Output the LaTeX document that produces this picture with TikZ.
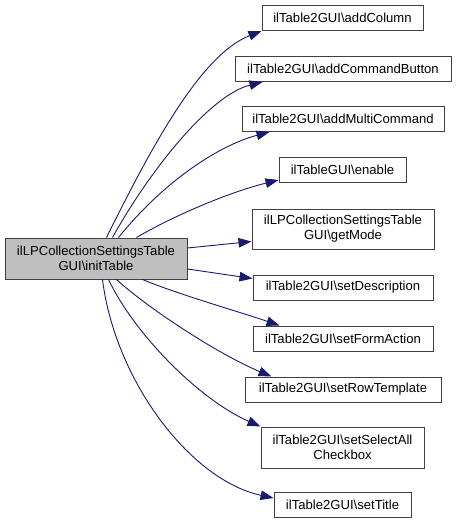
\documentclass[tikz,border=0pt]{standalone}
\usepackage{fontspec}
\setmainfont{Liberation Sans}
\usetikzlibrary{arrows.meta}
\definecolor{edgeblue}{HTML}{191970}
\definecolor{boxline}{HTML}{404040}
\definecolor{mainfill}{HTML}{BFBFBF}
\tikzset{
  fn/.style={draw=boxline, line width=1pt, fill=white, inner sep=0pt,
    minimum height=25pt, align=center, font=\fontsize{13.1}{15}\selectfont},
  fntwo/.style={fn, minimum height=41pt},
  mainbox/.style={fntwo, fill=mainfill},
  edge/.style={draw=edgeblue, line width=0.9pt, -{Triangle[length=13pt,width=9.5pt]}, fill=none}
}
\begin{document}
\begin{tikzpicture}[x=1pt,y=-1pt]
\useasboundingbox (0,0) rectangle (456,525);
\node[mainbox, minimum width=182pt] (main) at (96,258.5) {ilLPCollectionSettingsTable\\GUI\textbackslash initTable};
\node[fn, minimum width=161pt] (n1) at (342.5,18) {ilTable2GUI\textbackslash addColumn};
\node[fn, minimum width=216pt] (n2) at (343,69) {ilTable2GUI\textbackslash addCommandButton};
\node[fn, minimum width=202pt] (n3) at (343,119) {ilTable2GUI\textbackslash addMultiCommand};
\node[fn, minimum width=127pt] (n4) at (342.5,170) {ilTableGUI\textbackslash enable};
\node[fntwo, minimum width=182pt, minimum height=40pt] (n5) at (343,229) {ilLPCollectionSettingsTable\\GUI\textbackslash getMode};
\node[fn, minimum width=180pt] (n6) at (343,287.5) {ilTable2GUI\textbackslash setDescription};
\node[fn, minimum width=180pt] (n7) at (343,338.5) {ilTable2GUI\textbackslash setFormAction};
\node[fn, minimum width=196pt] (n8) at (343,389.5) {ilTable2GUI\textbackslash setRowTemplate};
\node[fntwo, minimum width=163pt] (n9) at (342.5,447.5) {ilTable2GUI\textbackslash setSelectAll\\Checkbox};
\node[fn, minimum width=137pt] (n10) at (342.5,505) {ilTable2GUI\textbackslash setTitle};

\draw[edge] ([xshift=102pt]main.north west) .. controls (150,150) and (200,55) .. (n1.south west);
\draw[edge] ([xshift=108pt]main.north west) .. controls (150,170) and (210,95) .. ([xshift=28pt]n2.south west);
\draw[edge] ([xshift=114pt]main.north west) .. controls (165,180) and (220,145) .. ([xshift=28pt]n3.south west);
\draw[edge] ([xshift=132pt]main.north west) .. controls (175,215) and (230,192) .. ([yshift=3pt]n4.south west);
\draw[edge] ([yshift=10.5pt]main.east) -- ([yshift=8pt]n5.south west);
\draw[edge] ([yshift=-10.5pt]main.east) -- ([yshift=-4pt]n6.north west);
\draw[edge] ([xshift=138pt]main.south west) .. controls (180,295) and (240,312) .. ([xshift=27pt]n7.north west);
\draw[edge] ([xshift=112pt]main.south west) .. controls (150,310) and (220,355) .. ([xshift=27pt]n8.north west);
\draw[edge] ([xshift=104pt]main.south west) .. controls (135,335) and (200,400) .. (n9.north west);
\draw[edge] ([xshift=98pt]main.south west) .. controls (115,380) and (190,480) .. ([yshift=-6pt]n10.north west);
\end{tikzpicture}
\end{document}
